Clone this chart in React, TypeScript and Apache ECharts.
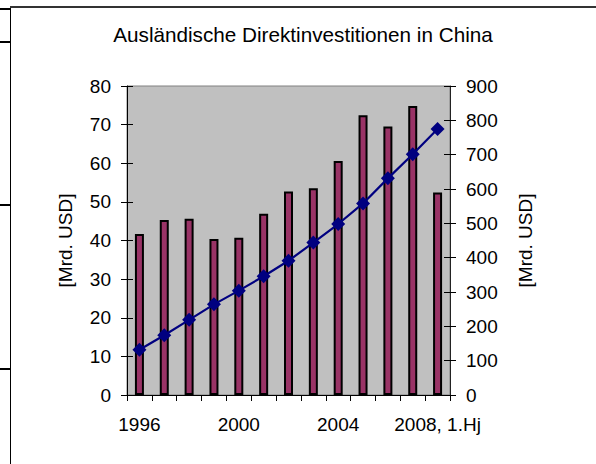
import React, { useEffect, useRef } from "react";
import * as echarts from "echarts";

const categories = ["1996", "1997", "1998", "1999", "2000", "2001", "2002", "2003", "2004", "2005", "2006", "2007", "2008, 1.Hj"];
const annualFDI = [41.7, 45.3, 45.6, 40.4, 40.7, 46.9, 52.7, 53.5, 60.6, 72.4, 69.5, 74.8, 52.4];
const cumulativeFDI = [132, 174, 219, 264, 304, 346, 391, 444, 498, 558, 631, 701, 775];
const titleText = "Ausländische Direktinvestitionen in China";
const axisName = "[Mrd. USD]";
const tableLineYs = [9, 42, 205, 369];

const FONT = "'Liberation Sans', Arial, sans-serif";

export default function App() {
  const ref = useRef<HTMLDivElement>(null);
  useEffect(() => {
    if (!ref.current) return;
    const chart = echarts.init(ref.current, undefined, { renderer: "svg" });
    const labelStyle = { color: "#000", fontSize: 19, fontFamily: FONT };
    chart.setOption({
      animation: false,
      backgroundColor: "#fff",
      textStyle: { fontFamily: FONT },
      graphic: [
        {
          type: "rect",
          shape: { x: 10.5, y: 7, width: 700, height: 600 },
          style: { fill: "#fff", stroke: "#000", lineWidth: 1 },
          z: -10,
          silent: true,
        },
        {
          type: "line",
          shape: { x1: 10, y1: 7, x2: 700, y2: 7 },
          style: { stroke: "#333", lineWidth: 2 },
          z: -9,
          silent: true,
        },
        ...tableLineYs.map((y) => ({
          type: "line",
          shape: { x1: 0, y1: y, x2: 10, y2: y },
          style: { stroke: "#000", lineWidth: 2 },
          silent: true,
        })),
        {
          type: "text",
          x: 303,
          y: 34,
          style: {
            text: titleText,
            fill: "#000",
            fontSize: 20.7,
            fontFamily: FONT,
            textAlign: "center",
            textVerticalAlign: "middle",
          },
          silent: true,
        },
      ],
      grid: {
        left: 127,
        top: 86,
        right: 146,
        bottom: 69,
        show: true,
        backgroundColor: "#C0C0C0",
        borderColor: "#808080",
        borderWidth: 1,
      },
      xAxis: {
        type: "category",
        data: categories,
        boundaryGap: true,
        axisLine: { lineStyle: { color: "#000", width: 1 } },
        axisTick: { show: true, interval: 0, length: 6, lineStyle: { color: "#000" } },
        axisLabel: { ...labelStyle, interval: 3, margin: 20 },
        splitLine: { show: false },
      },
      yAxis: [
        {
          type: "value",
          position: "left",
          min: 0,
          max: 80,
          interval: 10,
          name: axisName,
          nameLocation: "middle",
          nameRotate: 90,
          nameGap: 52,
          nameTextStyle: { color: "#000", fontSize: 19, fontFamily: FONT },
          axisLine: { show: true, lineStyle: { color: "#000" } },
          axisTick: { show: true, length: 6, lineStyle: { color: "#000" } },
          axisLabel: { ...labelStyle, margin: 16 },
          splitLine: { show: false },
        },
        {
          type: "value",
          position: "right",
          min: 0,
          max: 900,
          interval: 100,
          name: axisName,
          nameLocation: "middle",
          nameRotate: 90,
          nameGap: 66,
          nameTextStyle: { color: "#000", fontSize: 19, fontFamily: FONT },
          axisLine: { show: true, lineStyle: { color: "#222" } },
          axisTick: { show: true, length: 6, lineStyle: { color: "#000" } },
          axisLabel: { ...labelStyle, margin: 16 },
          splitLine: { show: false },
        },
        {
          type: "value",
          position: "left",
          min: 0,
          max: 80,
          interval: 10,
          axisLine: { show: false },
          axisTick: { show: true, inside: true, length: 6, lineStyle: { color: "#000" } },
          axisLabel: { show: false },
          splitLine: { show: false },
        },
        {
          type: "value",
          position: "right",
          min: 0,
          max: 900,
          interval: 100,
          axisLine: { show: false },
          axisTick: { show: true, inside: true, length: 6, lineStyle: { color: "#000" } },
          axisLabel: { show: false },
          splitLine: { show: false },
        },
      ],
      series: [
        {
          type: "bar",
          yAxisIndex: 0,
          data: annualFDI,
          barWidth: 9,
          itemStyle: { color: "#993366", borderColor: "#000", borderWidth: 2 },
        },
        {
          type: "line",
          yAxisIndex: 1,
          data: cumulativeFDI,
          symbol: "diamond",
          symbolSize: 14,
          lineStyle: { color: "#000080", width: 2.2 },
          itemStyle: { color: "#000080" },
          z: 5,
        },
      ],
    });
    return () => chart.dispose();
  }, []);
  return (
    <div
      ref={ref}
      style={{ position: "fixed", left: 0, top: 0, width: 596, height: 464 }}
    />
  );
}
